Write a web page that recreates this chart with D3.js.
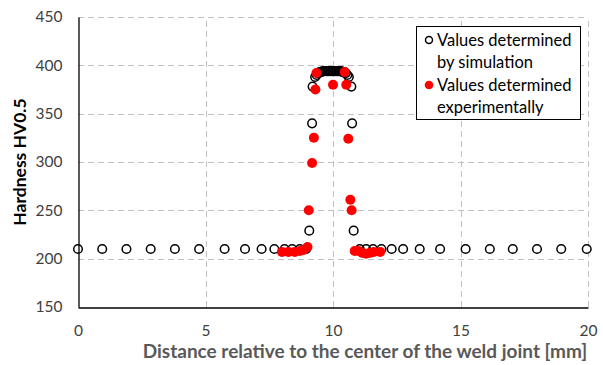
<!DOCTYPE html>
<html>
<head>
<meta charset="utf-8">
<script src="https://cdn.jsdelivr.net/npm/d3@7"></script>
<style>
  html, body { margin: 0; padding: 0; background: #fff; }
  svg { display: block; }
  text { font-family: Lato, "Open Sans", sans-serif; }
</style>
</head>
<body>
<svg id="chart" width="603" height="365"></svg>
<script>
// Hardness profile across the weld joint
const simX = [0, 0.95, 1.9, 2.85, 3.8, 4.75, 5.75, 6.55, 7.2, 7.7, 8.1, 8.4, 8.7, 8.95,
  9.07, 9.18, 9.2, 9.3, 9.36, 9.42, 9.48, 9.54, 9.6, 9.66, 9.72, 9.78, 9.84, 9.9, 9.96,
  10.02, 10.08, 10.14, 10.2, 10.26, 10.32, 10.38, 10.44, 10.5, 10.56, 10.62, 10.72, 10.75, 10.81,
  11.05, 11.3, 11.57, 11.9, 12.3, 12.75, 13.4, 14.2, 15.2, 16.15, 17.05, 18.0, 18.95, 19.95];
const simY = [210, 210, 210, 210, 210, 210, 210, 210, 210, 210, 210, 210, 210, 210,
  229, 340, 378, 388, 390, 392, 393, 393, 394, 394, 394, 394, 394, 394, 394,
  394, 394, 394, 394, 394, 394, 393, 393, 392, 390, 388, 378, 340, 229,
  210, 210, 210, 210, 210, 210, 210, 210, 210, 210, 210, 210, 210, 210];

const expX = [8.0, 8.25, 8.5, 8.7, 8.85, 9.0, 9.05, 9.18, 9.25, 9.31, 9.35,
  10.0, 10.46, 10.52, 10.6, 10.68, 10.73, 10.85, 11.0, 11.15, 11.3, 11.45, 11.6, 11.85];
const expY = [207, 207, 207, 208, 209, 212, 250, 299, 325, 375, 392,
  380, 393, 380, 324, 261, 250, 208, 208, 206, 205, 206, 207, 207];

const xTicks = [0, 5, 10, 15, 20];
const yTicks = [150, 200, 250, 300, 350, 400, 450];
const legendLabels = [["Values determined", "by simulation"], ["Values determined", "experimentally"]];
const xTitle = "Distance relative to the center of the weld joint [mm]";
const yTitle = "Hardness HV0.5";

const svg = d3.select("#chart");
const x = d3.scaleLinear().domain([0, 20]).range([78, 588]);
const y = d3.scaleLinear().domain([150, 450]).range([307, 17]);

// grid
const grid = svg.append("g").attr("stroke", "#c0c0c0").attr("stroke-width", 1)
  .attr("stroke-dasharray", "6,4").attr("fill", "none");
grid.selectAll("line.h").data(yTicks.filter(d => d > 150)).join("line")
  .attr("x1", x(0)).attr("x2", x(20))
  .attr("y1", d => Math.round(y(d)) + 0.5).attr("y2", d => Math.round(y(d)) + 0.5);
grid.selectAll("line.v").data(xTicks.filter(d => d > 0)).join("line")
  .attr("y1", y(150)).attr("y2", y(450))
  .attr("x1", d => Math.round(x(d)) + 0.5).attr("x2", d => Math.round(x(d)) + 0.5);

// axes
const xAxis = svg.append("g").attr("transform", `translate(0,${Math.round(y(150)) + 0.5})`)
  .call(d3.axisBottom(x).tickValues(xTicks).tickSize(0).tickPadding(17));
const yAxis = svg.append("g").attr("transform", `translate(${Math.round(x(0)) + 0.5},0)`)
  .call(d3.axisLeft(y).tickValues(yTicks).tickSize(0).tickPadding(16));
[xAxis, yAxis].forEach(a => {
  a.select(".domain").attr("stroke", "#000").attr("stroke-width", 1.3);
  a.selectAll("text").attr("fill", "#404040").style("font-size", "15.5px")
    .style("font-family", "Lato, sans-serif");
});

// simulated values: open circles
svg.append("g").selectAll("circle").data(simX.map((d, i) => [d, simY[i]])).join("circle")
  .attr("cx", d => x(d[0])).attr("cy", d => y(d[1])).attr("r", 4.3)
  .attr("fill", "none").attr("stroke", "#000").attr("stroke-width", 1.5);

// experimental values: filled red circles
svg.append("g").selectAll("circle").data(expX.map((d, i) => [d, expY[i]])).join("circle")
  .attr("cx", d => x(d[0])).attr("cy", d => y(d[1])).attr("r", 5)
  .attr("fill", "#ff0000");

// axis titles
svg.append("text").attr("x", 365).attr("y", 358).attr("text-anchor", "middle")
  .attr("fill", "#595959").style("font-size", "19px").style("font-weight", "bold")
  .text(xTitle);
svg.append("text").attr("transform", `translate(26,${(y(150) + y(450)) / 2}) rotate(-90)`)
  .attr("text-anchor", "middle").attr("fill", "#000").style("font-size", "17.5px")
  .style("font-weight", "bold").text(yTitle);

// legend
const lg = svg.append("g");
lg.append("rect").attr("x", 416.5).attr("y", 26.5).attr("width", 164).attr("height", 93)
  .attr("fill", "#fff").attr("stroke", "#000").attr("stroke-width", 1);
legendLabels.forEach((lines, i) => {
  const yy = 40 + i * 45;
  if (i === 0) {
    lg.append("circle").attr("cx", 429).attr("cy", yy).attr("r", 3.5)
      .attr("fill", "none").attr("stroke", "#000").attr("stroke-width", 1.5);
  } else {
    lg.append("circle").attr("cx", 429).attr("cy", yy).attr("r", 4.3).attr("fill", "#ff0000");
  }
  lines.forEach((t, j) => {
    lg.append("text").attr("x", 437).attr("y", yy + j * 22 + 6)
      .attr("fill", "#000").style("font-size", "16.5px").text(t);
  });
});
</script>
</body>
</html>
